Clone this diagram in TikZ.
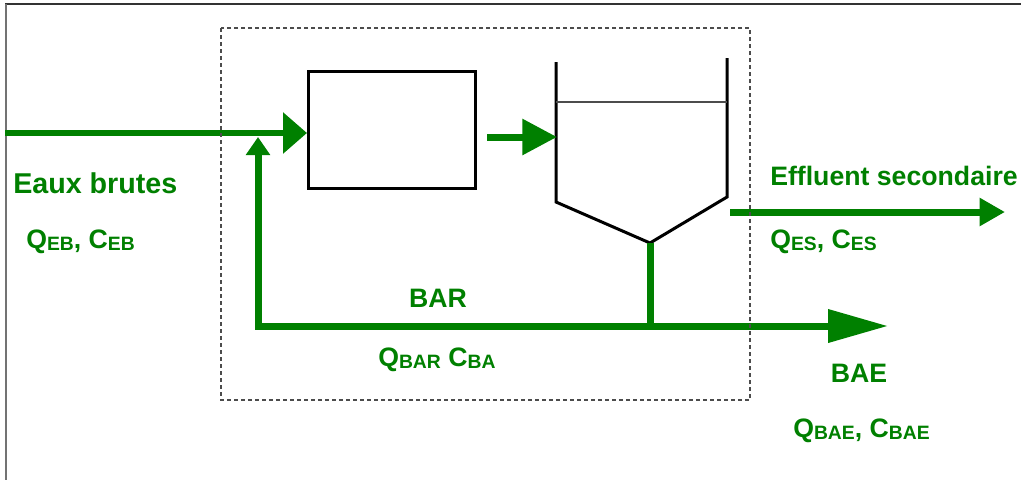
\documentclass[tikz,border=0pt]{standalone}
\usepackage{fontspec}
\setmainfont{Liberation Sans}
\usetikzlibrary{arrows.meta}
\definecolor{grn}{HTML}{008000}
\newcommand\lsub[1]{\raisebox{-1.5pt}{\fontsize{14.5pt}{14.5pt}\selectfont #1}}
\begin{document}
\begin{tikzpicture}[x=0.75pt,y=-0.75pt,
  flow/.style={draw=grn, line width=5.25pt},
  lbl/.style={text=grn, inner sep=0pt, font=\fontsize{20pt}{22pt}\selectfont\bfseries},
  wall/.style={draw=black, line width=2.25pt},
]
\useasboundingbox (0,0) rectangle (1021,480);
\fill[white] (0,0) rectangle (1021,480);
% frame
\draw[line width=1.2pt, black!80] (5,4) -- (1021,4);
\draw[line width=1.5pt, black!55] (6,4) -- (6,480);

% reactor
\node[wall, minimum width=125pt, minimum height=87.75pt, inner sep=0pt] (reactor) at (392,130) {};
% settler
\coordinate (sLtop) at (556,62);
\coordinate (sLbot) at (556,202);
\coordinate (sbot) at (650,243);
\coordinate (sRbot) at (727,197);
\coordinate (sRtop) at (727,58);
\draw[wall, line join=miter] (sLtop) -- (sLbot) -- (sbot) -- (sRbot) -- (sRtop);
\draw[line width=1.1pt, black!70] (556,102) -- (727,102);

% connectors
\coordinate (in) at (5,133);
\coordinate (inTip) at (307,133);
\coordinate (recTip) at (258,137);
\coordinate (recCorner) at (258,326);
\coordinate (baeTip) at (888,326);
\coordinate (junction) at (650,326);
\coordinate (mid1) at (487,137);
\coordinate (mid2) at (557,137);
\coordinate (es1) at (730,212);
\coordinate (es2) at (1005,212);

\draw[flow, line width=4.5pt, -{Triangle[length=18pt,width=30pt]}] (in) -- (inTip);
\draw[flow, line join=miter, {Triangle[length=13.5pt,width=17.5pt]}-{Triangle[length=45pt,width=24pt]}] (recTip) -- (recCorner) -- (baeTip);
\draw[flow] (sbot) -- (junction);
\draw[flow, -{Triangle[length=26pt,width=26pt]}] (mid1) -- (mid2);
\draw[flow, -{Triangle[length=19pt,width=20pt]}] (es1) -- (es2);

% system boundary
\draw[dash pattern=on 3pt off 2.25pt, line width=0.8pt, black!70] (221,28) rectangle (750,400);

% labels
\node[lbl, anchor=base west, font=\fontsize{21.5pt}{23pt}\selectfont\bfseries] (eb) at (13,193) {Eaux brutes};
\node[lbl, anchor=base west] (qeb) at (26,248) {Q\lsub{EB}, C\lsub{EB}};
\node[lbl, anchor=base west] (es) at (770,185) {Effluent secondaire};
\node[lbl, anchor=base west] (qes) at (770,248) {Q\lsub{ES}, C\lsub{ES}};
\node[lbl, anchor=base] (bar) at (438,307) {BAR};
\node[lbl, anchor=base west] (qbar) at (378,366) {Q\lsub{BAR} C\lsub{BA}};
\node[lbl, anchor=base] (bae) at (859,382) {BAE};
\node[lbl, anchor=base west] (qbae) at (793,437) {Q\lsub{BAE}, C\lsub{BAE}};
\end{tikzpicture}
\end{document}
